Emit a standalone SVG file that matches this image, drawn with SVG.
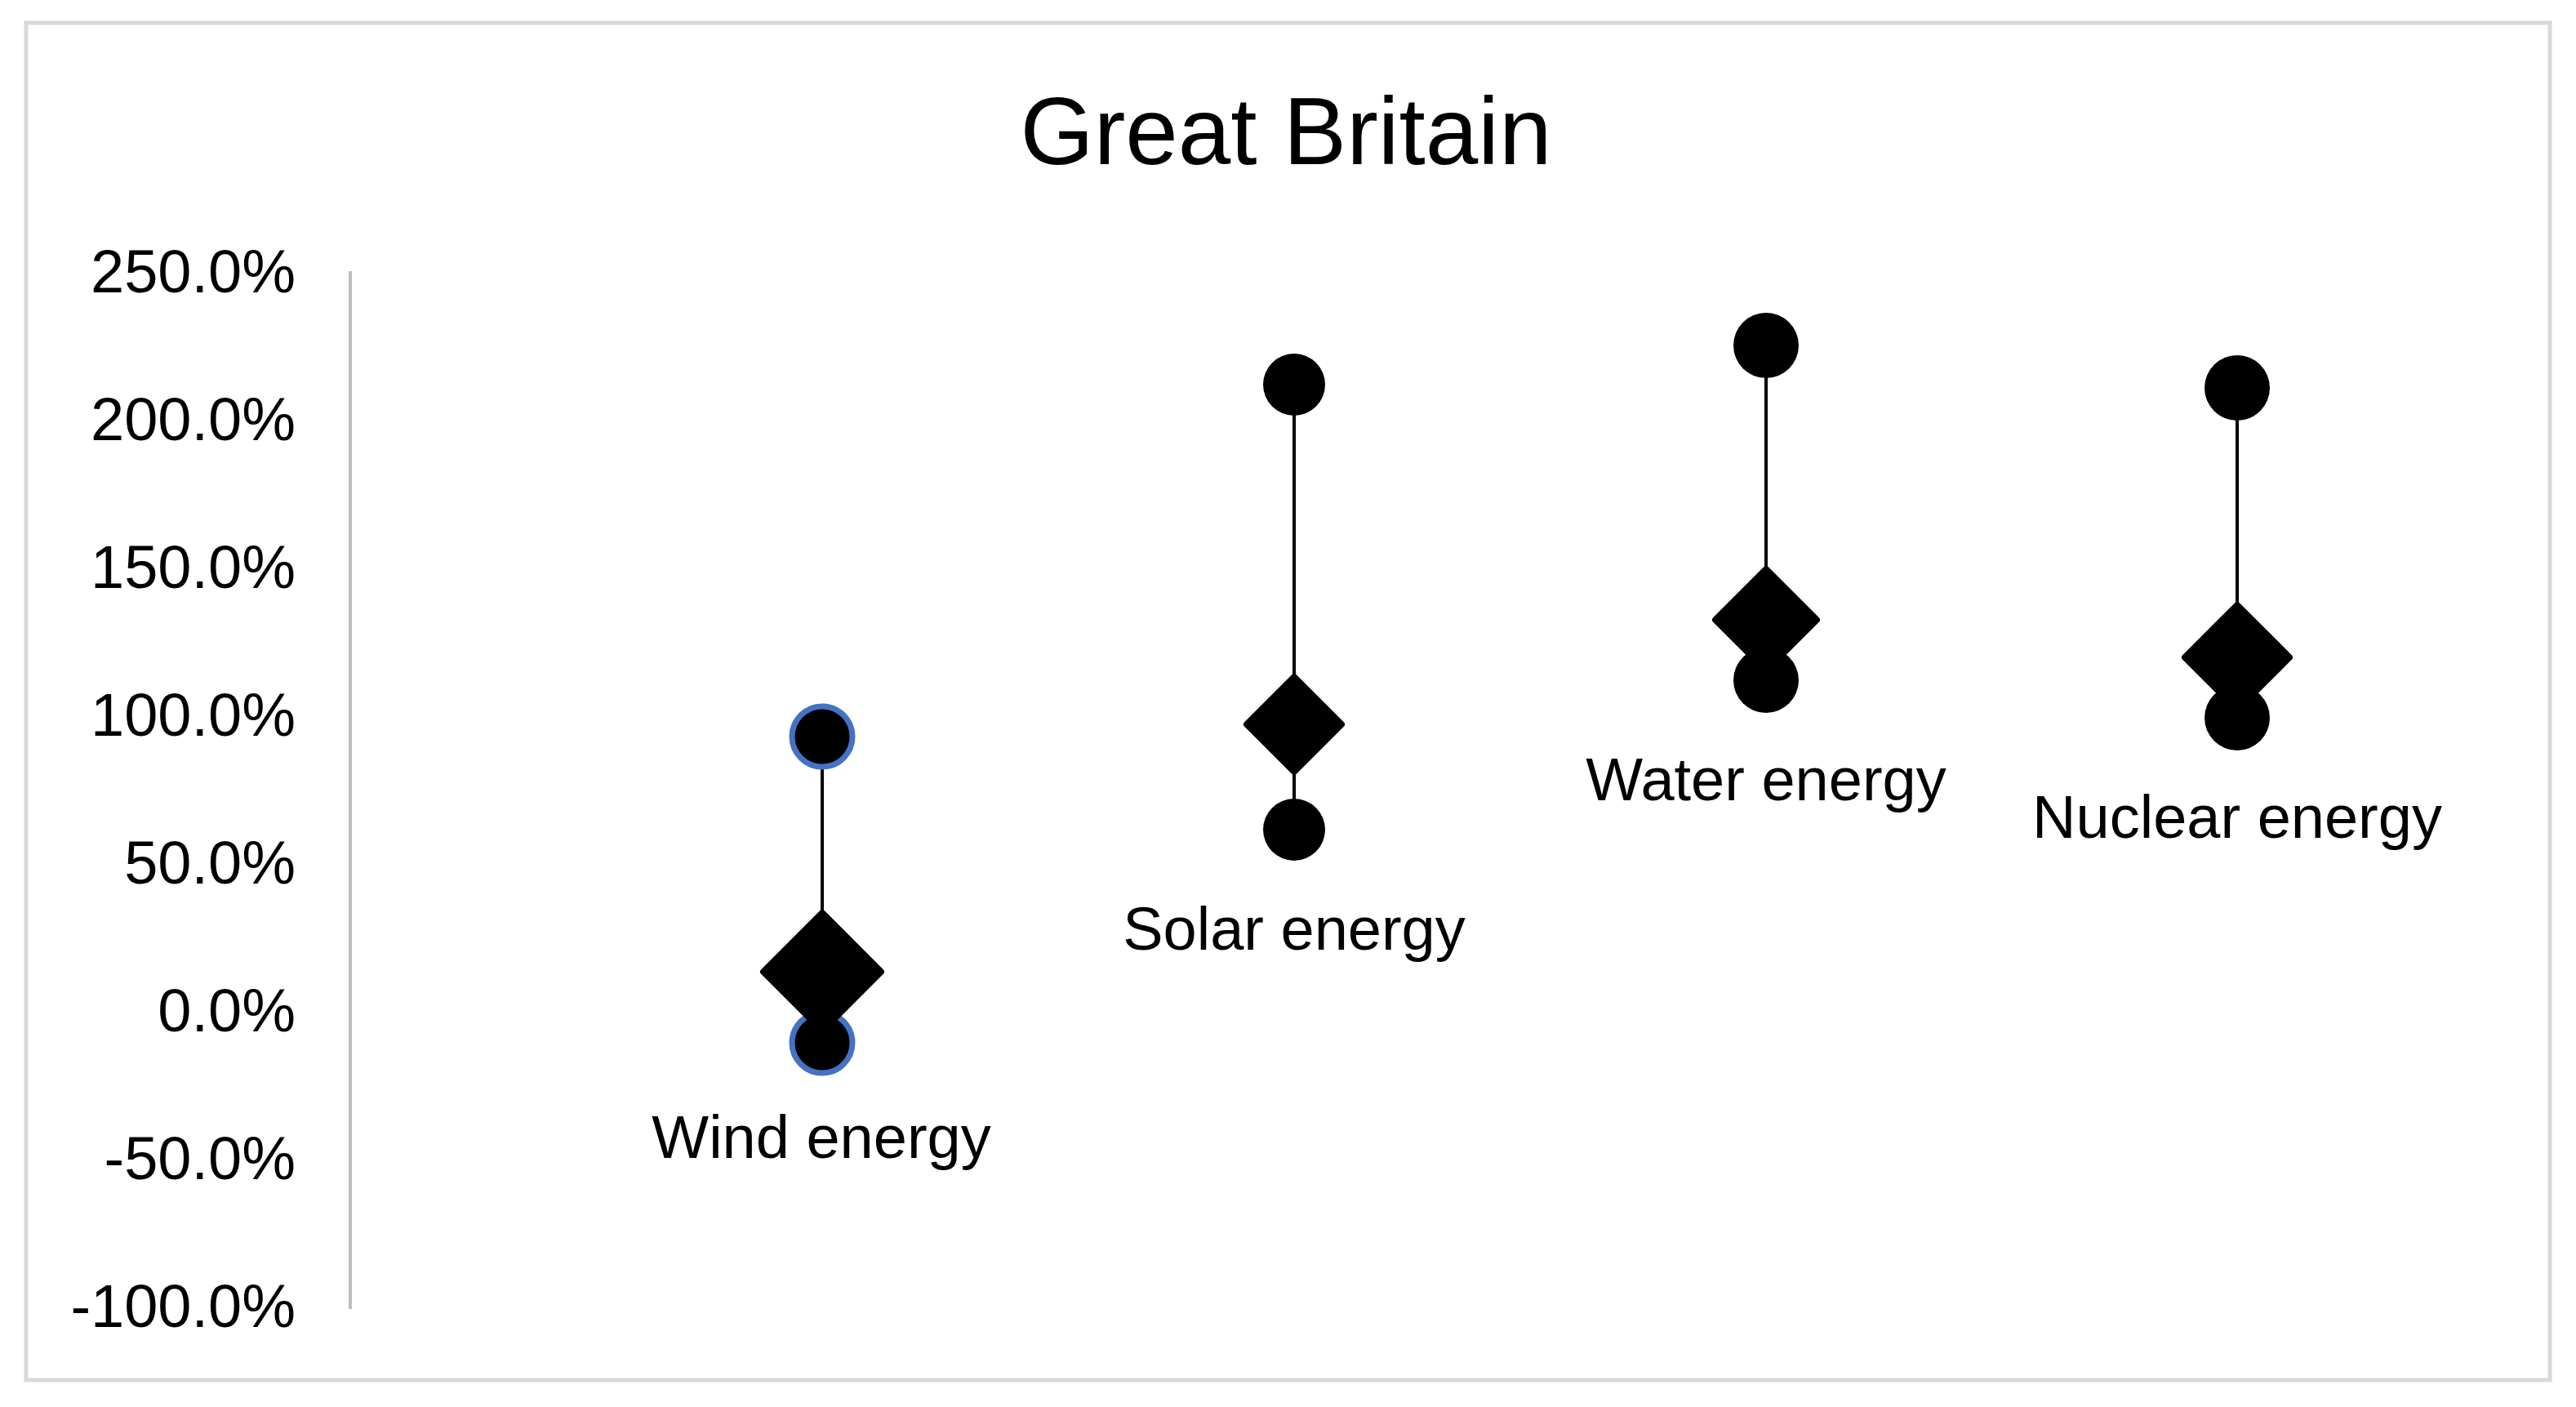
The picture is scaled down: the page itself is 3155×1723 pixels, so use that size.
<svg xmlns="http://www.w3.org/2000/svg" width="3155" height="1723" viewBox="0 0 3155 1723">
<style>
text{font-family:"Liberation Sans",Arial,sans-serif;fill:#000}
.tick{font-size:74px;text-anchor:end}
.cat{font-size:74px;text-anchor:middle}
.dot{fill:#000}
.blue{stroke:#4472C4;stroke-width:7}
.dia{fill:#000;stroke:#000;stroke-width:8;stroke-linejoin:round}
.conn{stroke:#000;stroke-width:4}
</style>
<rect x="0" y="0" width="3155" height="1723" fill="#fff"/>
<rect x="32" y="28" width="3091" height="1662" fill="#fff" stroke="#d9d9d9" stroke-width="5"/>
<text x="1575" y="201" font-size="116" text-anchor="middle">Great Britain</text>
<line x1="429" y1="332" x2="429" y2="1603" stroke="#bfbfbf" stroke-width="4"/>
<g id="axis-labels">
<text class="tick" x="362" y="358">250.0%</text>
<text class="tick" x="362" y="539">200.0%</text>
<text class="tick" x="362" y="720">150.0%</text>
<text class="tick" x="362" y="901">100.0%</text>
<text class="tick" x="362" y="1082">50.0%</text>
<text class="tick" x="362" y="1263">0.0%</text>
<text class="tick" x="362" y="1444">-50.0%</text>
<text class="tick" x="362" y="1625">-100.0%</text>
</g>
<g id="connectors">
<line class="conn" x1="1007" y1="902" x2="1007" y2="1190"/>
<line class="conn" x1="1585" y1="471" x2="1585" y2="1016"/>
<line class="conn" x1="2163" y1="423" x2="2163" y2="759"/>
<line class="conn" x1="2740" y1="475" x2="2740" y2="805"/>
</g>
<g id="wind">
<circle class="dot blue" cx="1007" cy="902" r="37"/>
<circle class="dot blue" cx="1007" cy="1277" r="37"/>
<polygon class="dia" points="1007,1118 1079,1190 1007,1262 935,1190"/>
<text class="cat" x="1006" y="1418">Wind energy</text>
</g>
<g id="solar">
<circle class="dot" cx="1585" cy="471" r="38"/>
<circle class="dot" cx="1585" cy="1016" r="38"/>
<polygon class="dia" points="1585,829 1643,887 1585,945 1527,887"/>
<text class="cat" x="1585" y="1163">Solar energy</text>
</g>
<g id="water">
<circle class="dot" cx="2163" cy="423" r="40"/>
<circle class="dot" cx="2163" cy="833" r="40"/>
<polygon class="dia" points="2163,697 2225,759 2163,821 2101,759"/>
<text class="cat" x="2163" y="980">Water energy</text>
</g>
<g id="nuclear">
<circle class="dot" cx="2740" cy="475" r="40"/>
<circle class="dot" cx="2740" cy="879" r="40"/>
<polygon class="dia" points="2740,741 2804,805 2740,869 2676,805"/>
<text class="cat" x="2740" y="1026">Nuclear energy</text>
</g>
</svg>
